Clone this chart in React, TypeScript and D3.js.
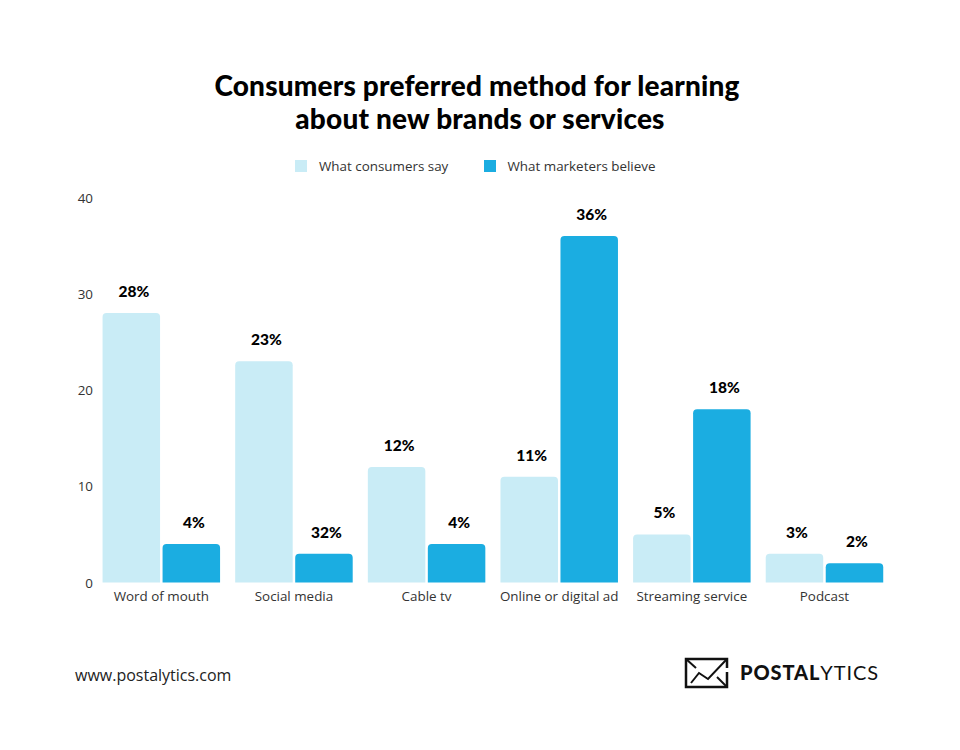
import React from "react";
import * as d3 from "d3";

const categories = ["Word of mouth", "Social media", "Cable tv", "Online or digital ad", "Streaming service", "Podcast"];
const consumers = [28, 23, 12, 11, 5, 3];
const marketers = [4, 3, 4, 36, 18, 2];
const consumerLabels = ["28%", "23%", "12%", "11%", "5%", "3%"];
const marketerLabels = ["4%", "32%", "4%", "36%", "18%", "2%"];
const yTicks = [0, 10, 20, 30, 40];
const titleLines = ["Consumers preferred method for learning", "about new brands or services"];
const seriesNames = ["What consumers say", "What marketers believe"];
const LIGHT = "#c9ecf6";
const DARK = "#1badE1";
const OPEN = "'Open Sans', sans-serif";
const HEAD = "Lato, sans-serif";

function topRounded(x: number, y: number, w: number, h: number, r: number) {
  const p = d3.path();
  p.moveTo(x, y + h);
  p.lineTo(x, y + r);
  p.quadraticCurveTo(x, y, x + r, y);
  p.lineTo(x + w - r, y);
  p.quadraticCurveTo(x + w, y, x + w, y + r);
  p.lineTo(x + w, y + h);
  p.closePath();
  return p.toString();
}

export default function App() {
  const x = d3.scaleBand<string>().domain(categories).range([95.0, 890.8]);
  const y = d3.scaleLinear().domain([0, 40]).range([582.5, 197.5]);
  const barW = 57.5;
  const gap = 2.5;
  const base = y(0);
  const line = d3.line();
  return (
    <svg width={960} height={750} style={{ position: "absolute", left: 0, top: 0, background: "#fff" }}>
      <text x={477} y={96} textAnchor="middle" fontFamily={HEAD} fontWeight={900} fontSize={28} letterSpacing={0.18} fill="#000">{titleLines[0]}</text>
      <text x={480} y={129} textAnchor="middle" fontFamily={HEAD} fontWeight={900} fontSize={28} letterSpacing={0.18} fill="#000">{titleLines[1]}</text>
      <rect x={295} y={160} width={12} height={12} fill={LIGHT} />
      <text x={319} y={171} fontFamily={OPEN} fontSize={13.4} fill="#333">{seriesNames[0]}</text>
      <rect x={484} y={160} width={12} height={12} fill={DARK} />
      <text x={507.5} y={171} fontFamily={OPEN} fontSize={13.4} fill="#333">{seriesNames[1]}</text>
      {yTicks.map((t) => (
        <text key={t} x={93} y={y(t) + 5} textAnchor="end" fontFamily={OPEN} fontSize={13.4} fill="#333">{t}</text>
      ))}
      {categories.map((c, i) => {
        const cx = x(c)! + x.bandwidth() / 2;
        const x1 = cx - gap / 2 - barW;
        const x2 = cx + gap / 2;
        const y1 = y(consumers[i]);
        const y2 = y(marketers[i]);
        return (
          <g key={c}>
            <path d={topRounded(x1, y1, barW, base - y1, 4)} fill={LIGHT} />
            <path d={topRounded(x2, y2, barW, base - y2, 4)} fill={DARK} />
            <text x={x1 + barW / 2 + 2.5} y={y1 - 16} textAnchor="middle" fontFamily={HEAD} fontWeight={900} fontSize={15.5} fill="#000">{consumerLabels[i]}</text>
            <text x={x2 + barW / 2 + 2.5} y={y2 - 16} textAnchor="middle" fontFamily={HEAD} fontWeight={900} fontSize={15.5} fill="#000">{marketerLabels[i]}</text>
            <text x={cx} y={601} textAnchor="middle" fontFamily={OPEN} fontSize={13.4} fill="#333">{c}</text>
          </g>
        );
      })}
      <text x={75} y={681} fontFamily={OPEN} fontSize={16} fill="#222">www.postalytics.com</text>
      <g fill="none" stroke="#111" strokeWidth={2.5}>
        <path d={line([[718, 659], [686, 659], [686, 687], [727, 687], [727, 672]]) ?? ""} />
        <path d={line([[718, 659], [727, 659], [727, 668]]) ?? ""} />
        <path d={line([[686, 659], [696, 668]]) ?? ""} strokeWidth={2} />
        <path d={line([[691, 683], [699, 673], [708, 679], [726, 660]]) ?? ""} strokeWidth={2} />
        <path d={line([[717, 677], [726, 686]]) ?? ""} strokeWidth={2} />
      </g>
      <text x={740} y={680} fontFamily={HEAD} fontSize={20} letterSpacing={0.9} fill="#111">
        <tspan fontWeight={900}>POSTAL</tspan><tspan fontWeight={400}>YTICS</tspan>
      </text>
    </svg>
  );
}
